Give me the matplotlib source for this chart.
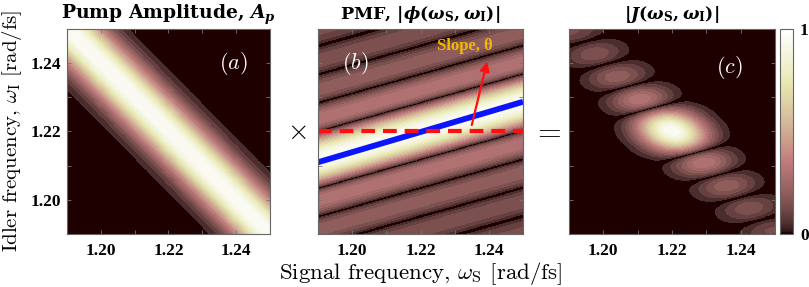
import numpy as np
import matplotlib
matplotlib.use("Agg")
import matplotlib.pyplot as plt
from matplotlib.cm import ScalarMappable
from matplotlib.colors import Normalize

plt.rcParams['font.family'] = 'Liberation Serif'
plt.rcParams['font.weight'] = 'bold'
plt.rcParams['mathtext.fontset'] = 'cm'

# axis range / ticks (rad/fs)
w_lim = [1.19, 1.25]
tick_pos = [1.20, 1.21, 1.22, 1.23, 1.24]
tick_lab = ['1.20', '', '1.22', '', '1.24']

# values
w_center = 1.22        # centre of pump band and PMF
pump_width = 0.0074    # gaussian width of pump band (in ws+wi)
pmf_slope = 0.28       # slope of the PMF fringes
pmf_spacing = 0.0083   # spacing of PMF zeros along wi
pmf_power = 0.7        # side lobes decay slowly across the panel
n_levels = 20          # contour levels of the filled plots

# blue line and dashed reference in panel (b)
blue_ws = [1.19, 1.25]
blue_wi = [1.211, 1.2287]
ref_wi = 1.22
arrow_tail = (1.235, 1.2219)
arrow_head = (1.2395, 1.2405)

ws = np.linspace(w_lim[0], w_lim[1], 600)
WS, WI = np.meshgrid(ws, ws)
pump = np.exp(-(WS + WI - 2 * w_center) ** 2 / (2 * pump_width ** 2))
u = (WI - w_center) - pmf_slope * (WS - w_center)
pmf = np.abs(np.sinc(u / pmf_spacing)) ** pmf_power
jsa = pump * pmf
jsa = jsa / jsa.max()

fig = plt.figure(figsize=(8.09, 2.87), dpi=100)
ax_a = fig.add_axes([0.0828, 0.1847, 0.2509, 0.7143])
ax_b = fig.add_axes([0.3931, 0.1847, 0.2534, 0.7143])
ax_c = fig.add_axes([0.7033, 0.1847, 0.2546, 0.7143])
cax = fig.add_axes([0.9642, 0.1847, 0.0161, 0.7143])

cmap = plt.get_cmap('pink')
for ax, z in zip([ax_a, ax_b, ax_c], [pump, pmf, jsa]):
    zq = np.floor(np.clip(z, 0, 0.9999) * n_levels) / n_levels
    ax.imshow(zq, origin='lower', extent=w_lim + w_lim, cmap=cmap, vmin=0, vmax=1,
              interpolation='nearest', aspect='auto')
    ax.set_xlim(w_lim)
    ax.set_ylim(w_lim)
    ax.set_xticks(tick_pos)
    ax.set_xticklabels(tick_lab)
    ax.set_yticks(tick_pos)
    ax.set_yticklabels(tick_lab if ax is ax_a else [''] * 5)
    ax.tick_params(direction='in', length=3, width=0.6, color='#777777',
                   labelsize=12.5, top=True, right=True)
    ax.tick_params(axis='x', pad=6.5)
    ax.tick_params(axis='y', pad=4)
    for s in ax.spines.values():
        s.set_color('#666666')
        s.set_linewidth(0.8)

tkw = dict(fontfamily='DejaVu Serif', fontweight='bold', math_fontfamily='dejavuserif',
           pad=7.5)
ax_a.set_title(r'Pump Amplitude, $A_p$', fontsize=13.5, **tkw)
ax_b.set_title(r'PMF, $|\phi(\omega_{\rm S},\omega_{\rm I})|$', fontsize=12.5, **tkw)
ax_c.set_title(r'$|\boldsymbol{J}(\omega_{\rm S},\omega_{\rm I})|$', fontsize=12.5, **tkw)

ax_a.set_ylabel(r'Idler frequency, $\omega_{\rm I}$ [rad/fs]', fontfamily='cmr10',
                fontweight='normal', fontsize=15, labelpad=5)
ax_b.set_xlabel(r'Signal frequency, $\omega_{\rm S}$ [rad/fs]', fontfamily='cmr10',
                fontweight='normal', fontsize=16.5)
ax_b.xaxis.set_label_coords(0.5, -0.125)

for ax, lab, x, y in [(ax_a, '(a)', 0.82, 0.83), (ax_b, '(b)', 0.18, 0.83),
                      (ax_c, '(c)', 0.78, 0.81)]:
    ax.text(x, y, '$' + lab + '$', color='white', fontsize=16,
            transform=ax.transAxes, ha='center', va='center')

ax_b.plot(blue_ws, blue_wi, color='#0a14ff', lw=4.2, solid_capstyle='butt')
ax_b.axhline(ref_wi, color='#ff1010', lw=3, linestyle=(0, (3.3, 1.9)))
ax_b.annotate('', xy=arrow_head, xytext=arrow_tail,
              arrowprops=dict(arrowstyle='-|>', color='#ff1010', lw=1.6,
                              mutation_scale=14, shrinkA=0, shrinkB=0))
ax_b.text(0.715, 0.915, 'Slope, θ', color='#f0b800', fontsize=12,
          fontweight='bold', transform=ax_b.transAxes, ha='center', va='center')

fig.text(0.367, 0.54, r'$\times$', fontsize=20, ha='center', va='center')
fig.text(0.676, 0.54, r'$=$', fontsize=22, ha='center', va='center')

cb = fig.colorbar(ScalarMappable(Normalize(0, 1), cmap=cmap), cax=cax, ticks=[0, 1])
cb.ax.tick_params(length=0, labelsize=12.5, pad=5)
cb.outline.set_edgecolor('#666666')
cb.outline.set_linewidth(0.8)

fig.savefig('out.png', dpi=100)
